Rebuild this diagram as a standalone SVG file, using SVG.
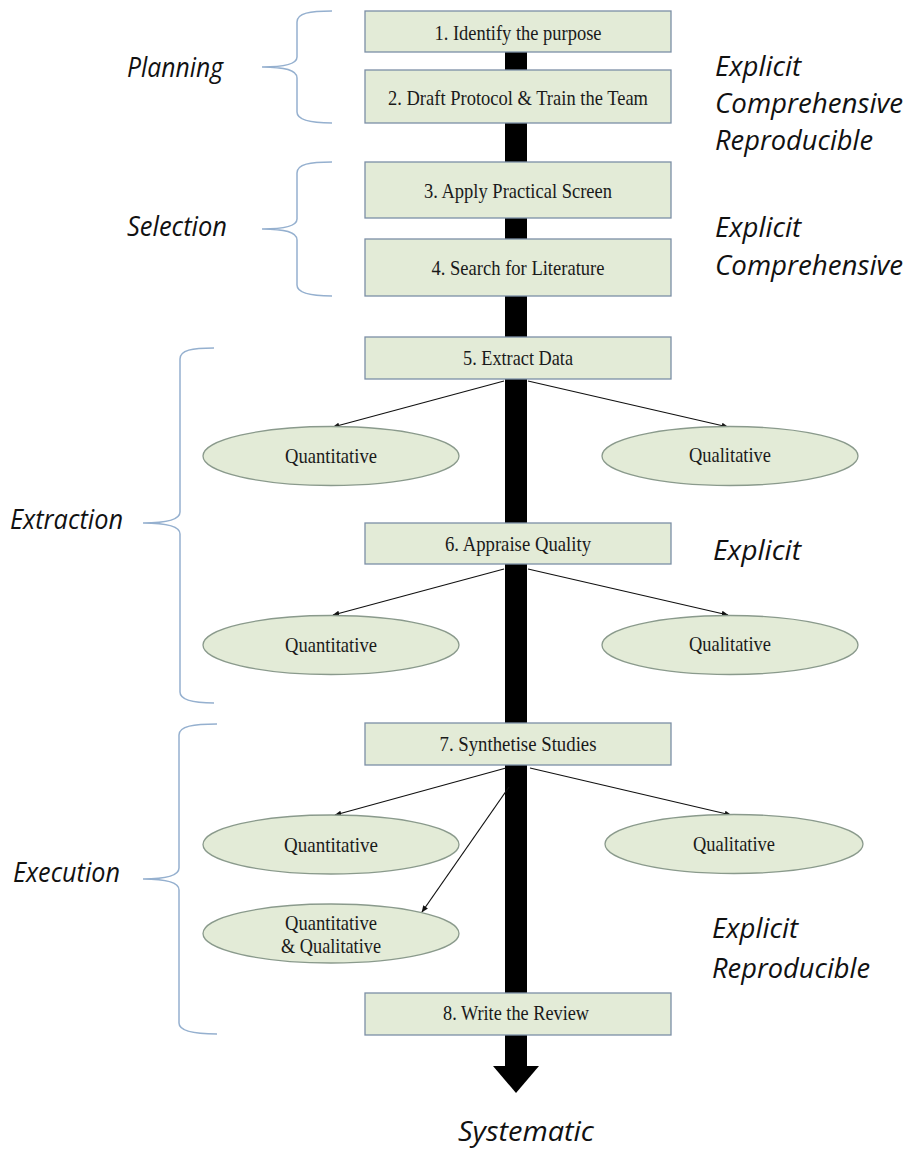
<svg xmlns="http://www.w3.org/2000/svg" width="908" height="1150" viewBox="0 0 908 1150">
<style>
.box{fill:#e3ebd7;stroke:#7c8fa6;stroke-width:1.3}
.ell{fill:#e3ebd7;stroke:#8a9a8c;stroke-width:1.3}
.bt{font-family:"Liberation Serif","Times New Roman",serif;font-size:22px;fill:#1a1a1a;text-anchor:middle}
.et{font-family:"Liberation Serif","Times New Roman",serif;font-size:21px;fill:#1a1a1a;text-anchor:middle}
.it{font-family:"Open Sans","Noto Sans",sans-serif;font-style:italic;font-size:27px;fill:#111}
.brace{fill:none;stroke:#95b0cf;stroke-width:1.5}
.conn{stroke:#111;stroke-width:1.2;fill:none}
</style>
<defs>
<marker id="ah" viewBox="0 0 10 10" refX="9" refY="5" markerWidth="7" markerHeight="7" orient="auto" markerUnits="userSpaceOnUse">
<path d="M0,1 L10,5 L0,9 z" fill="#111"/>
</marker>
</defs>
<rect width="908" height="1150" fill="#fff"/>

<g id="spine">
<rect x="505" y="20" width="22" height="1048" fill="#000"/>
<polygon points="493,1066 539,1066 516,1093" fill="#000"/>
</g>

<g id="connectors">
<line class="conn" x1="504" y1="381" x2="333" y2="427" marker-end="url(#ah)"/>
<line class="conn" x1="528" y1="381" x2="728" y2="427" marker-end="url(#ah)"/>
<line class="conn" x1="504" y1="569" x2="333" y2="615" marker-end="url(#ah)"/>
<line class="conn" x1="528" y1="569" x2="728" y2="615" marker-end="url(#ah)"/>
<line class="conn" x1="506" y1="768" x2="335" y2="815" marker-end="url(#ah)"/>
<line class="conn" x1="530" y1="768" x2="731" y2="815" marker-end="url(#ah)"/>
<line class="conn" x1="509" y1="787" x2="422" y2="912" marker-end="url(#ah)"/>
</g>

<g id="braces">
<path class="brace" d="M332,11 C310,11 297,13 297,22 L297,57 C297,64 285,67 262,67 C285,67 297,70 297,78 L297,112 C297,120 310,123 332,123"/>
<path class="brace" d="M332,162 C310,162 297,164 297,173 L297,219 C297,226 285,229 262,229 C285,229 297,232 297,240 L297,285 C297,293 310,296 332,296"/>
<path class="brace" d="M214,348 C192,348 180,350 180,359 L180,512 C180,519 168,523 143,523 C168,523 180,527 180,534 L180,692 C180,700 192,703 214,703"/>
<path class="brace" d="M217,724 C194,724 179,726 179,735 L179,868 C179,875 167,879 143,879 C167,879 179,883 179,890 L179,1023 C179,1031 194,1034 217,1034"/>
</g>

<g id="n1"><rect class="box" x="365" y="11" width="306" height="41"/><text class="bt" x="518" y="40" textLength="167" lengthAdjust="spacingAndGlyphs">1. Identify the purpose</text></g>
<g id="n2"><rect class="box" x="365" y="70" width="306" height="53"/><text class="bt" x="518" y="105" textLength="260" lengthAdjust="spacingAndGlyphs">2. Draft Protocol &amp; Train the Team</text></g>
<g id="n3"><rect class="box" x="365" y="162" width="306" height="56"/><text class="bt" x="518" y="198" textLength="188" lengthAdjust="spacingAndGlyphs">3. Apply Practical Screen</text></g>
<g id="n4"><rect class="box" x="365" y="239" width="306" height="57"/><text class="bt" x="518" y="275" textLength="173" lengthAdjust="spacingAndGlyphs">4. Search for Literature</text></g>
<g id="n5"><rect class="box" x="365" y="337" width="306" height="42"/><text class="bt" x="518" y="365" textLength="110" lengthAdjust="spacingAndGlyphs">5. Extract Data</text></g>
<g id="n6"><rect class="box" x="365" y="523" width="306" height="41"/><text class="bt" x="518" y="551" textLength="146" lengthAdjust="spacingAndGlyphs">6. Appraise Quality</text></g>
<g id="n7"><rect class="box" x="365" y="723" width="306" height="42"/><text class="bt" x="518" y="751" textLength="157" lengthAdjust="spacingAndGlyphs">7. Synthetise Studies</text></g>
<g id="n8"><rect class="box" x="365" y="993" width="306" height="42"/><text class="bt" x="516" y="1020" textLength="146" lengthAdjust="spacingAndGlyphs">8. Write the Review</text></g>

<g id="e1"><ellipse class="ell" cx="331" cy="456" rx="128" ry="29.5"/><text class="et" x="331" y="463" textLength="92" lengthAdjust="spacingAndGlyphs">Quantitative</text></g>
<g id="e2"><ellipse class="ell" cx="730" cy="456" rx="128" ry="29.5"/><text class="et" x="730" y="462" textLength="82" lengthAdjust="spacingAndGlyphs">Qualitative</text></g>
<g id="e3"><ellipse class="ell" cx="331" cy="645" rx="128" ry="29.5"/><text class="et" x="331" y="652" textLength="92" lengthAdjust="spacingAndGlyphs">Quantitative</text></g>
<g id="e4"><ellipse class="ell" cx="730" cy="645" rx="128" ry="29.5"/><text class="et" x="730" y="651" textLength="82" lengthAdjust="spacingAndGlyphs">Qualitative</text></g>
<g id="e5"><ellipse class="ell" cx="331" cy="844.5" rx="128" ry="29.5"/><text class="et" x="331" y="852" textLength="94" lengthAdjust="spacingAndGlyphs">Quantitative</text></g>
<g id="e6"><ellipse class="ell" cx="734" cy="844" rx="129" ry="29.5"/><text class="et" x="734" y="851" textLength="82" lengthAdjust="spacingAndGlyphs">Qualitative</text></g>
<g id="e7"><ellipse class="ell" cx="331" cy="933.5" rx="128" ry="29.5"/><text class="et" x="331" y="930" textLength="92" lengthAdjust="spacingAndGlyphs">Quantitative</text><text class="et" x="331" y="953" textLength="100" lengthAdjust="spacingAndGlyphs">&amp; Qualitative</text></g>

<g id="labels">
<text class="it" x="127" y="77" textLength="96" lengthAdjust="spacingAndGlyphs">Planning</text>
<text class="it" x="127" y="236" textLength="100" lengthAdjust="spacingAndGlyphs">Selection</text>
<text class="it" x="10" y="529" textLength="113" lengthAdjust="spacingAndGlyphs">Extraction</text>
<text class="it" x="13" y="882" textLength="107" lengthAdjust="spacingAndGlyphs">Execution</text>
<text class="it" x="715" y="76" textLength="86" lengthAdjust="spacingAndGlyphs">Explicit</text>
<text class="it" x="715" y="113" textLength="188" lengthAdjust="spacingAndGlyphs">Comprehensive</text>
<text class="it" x="715" y="150" textLength="158" lengthAdjust="spacingAndGlyphs">Reproducible</text>
<text class="it" x="715" y="237" textLength="86" lengthAdjust="spacingAndGlyphs">Explicit</text>
<text class="it" x="715" y="275" textLength="188" lengthAdjust="spacingAndGlyphs">Comprehensive</text>
<text class="it" x="713" y="560" textLength="88" lengthAdjust="spacingAndGlyphs">Explicit</text>
<text class="it" x="712" y="938" textLength="86" lengthAdjust="spacingAndGlyphs">Explicit</text>
<text class="it" x="712" y="978" textLength="158" lengthAdjust="spacingAndGlyphs">Reproducible</text>
<text class="it" x="458" y="1141" textLength="136" lengthAdjust="spacingAndGlyphs">Systematic</text>
</g>
</svg>
